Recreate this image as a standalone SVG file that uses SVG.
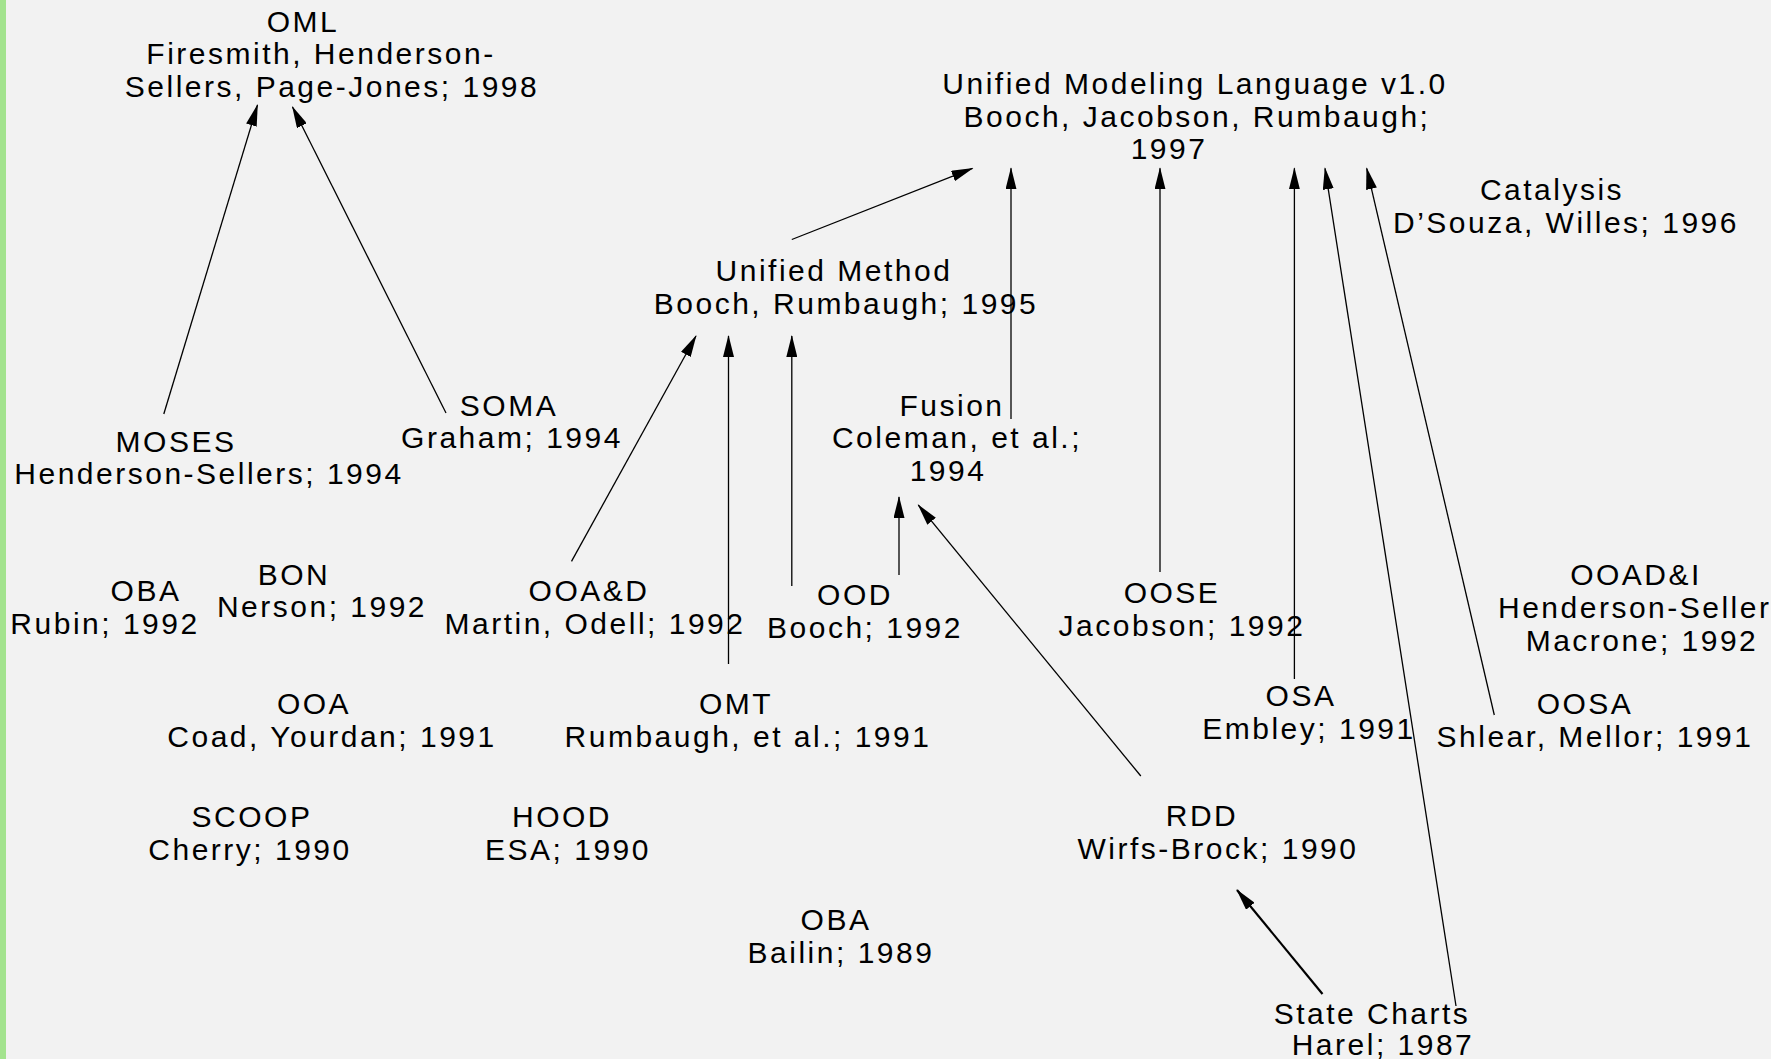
<svg xmlns="http://www.w3.org/2000/svg" width="1771" height="1059" viewBox="0 0 1771 1059">
<style>
text{font-family:"Liberation Sans",Arial,sans-serif;font-size:30px;letter-spacing:2.5px;fill:#000;text-anchor:middle}
.c line{stroke:#000;stroke-width:1.3;fill:none;marker-end:url(#ah)}
.c line.thick{stroke-width:2.2}
</style>
<defs>
<marker id="ah" markerWidth="22" markerHeight="11" refX="21" refY="5.5" orient="auto" markerUnits="userSpaceOnUse"><path d="M0,0 L22,5.5 L0,11 z" fill="#000"/></marker>
</defs>
<rect x="0" y="0" width="1771" height="1059" fill="#f2f2f2"/>
<rect x="0" y="0" width="6" height="1059" fill="#a3e38e"/>
<g class="c" id="connectors">
<line x1="163.8" y1="414" x2="257.5" y2="105"/>
<line x1="446" y1="413" x2="292.5" y2="107"/>
<line x1="791.8" y1="239.5" x2="972.5" y2="168.3"/>
<line x1="1011" y1="419" x2="1011" y2="168.3"/>
<line x1="1160" y1="572" x2="1160" y2="168.3"/>
<line x1="1294.4" y1="679" x2="1294.4" y2="168.3"/>
<line x1="1456" y1="1006" x2="1325" y2="168.3"/>
<line x1="1494.3" y1="715" x2="1366.7" y2="168.3"/>
<line x1="571.5" y1="561.4" x2="696" y2="336"/>
<line x1="728.5" y1="664" x2="728.5" y2="336"/>
<line x1="791.8" y1="586" x2="791.8" y2="336"/>
<line x1="899" y1="575" x2="899" y2="497"/>
<line x1="1140.8" y1="776" x2="918.3" y2="505"/>
<line class="thick" x1="1322.5" y1="994" x2="1237" y2="890"/>
</g>
<g id="oml"><text x="303" y="32">OML</text><text x="321" y="64">Firesmith, Henderson-</text><text x="332" y="97">Sellers, Page-Jones; 1998</text></g>
<g id="uml"><text x="1195" y="94">Unified Modeling Language v1.0</text><text x="1197" y="126.5">Booch, Jacobson, Rumbaugh;</text><text x="1169" y="159">1997</text></g>
<g id="catalysis"><text x="1552" y="200">Catalysis</text><text x="1566" y="233">D’Souza, Willes; 1996</text></g>
<g id="unified-method"><text x="834" y="281">Unified Method</text><text x="846" y="314">Booch, Rumbaugh; 1995</text></g>
<g id="soma"><text x="509" y="416">SOMA</text><text x="512" y="448">Graham; 1994</text></g>
<g id="moses"><text x="176" y="452">MOSES</text><text x="209" y="484">Henderson-Sellers; 1994</text></g>
<g id="fusion"><text x="952" y="416">Fusion</text><text x="957" y="448">Coleman, et al.;</text><text x="948" y="481">1994</text></g>
<g id="oba-rubin"><text x="146" y="601">OBA</text><text x="105" y="634">Rubin; 1992</text></g>
<g id="bon"><text x="294" y="585">BON</text><text x="322" y="617">Nerson; 1992</text></g>
<g id="ooad"><text x="589" y="601">OOA&amp;D</text><text x="595" y="634">Martin, Odell; 1992</text></g>
<g id="ood"><text x="855" y="605">OOD</text><text x="865" y="638">Booch; 1992</text></g>
<g id="oose"><text x="1172" y="603">OOSE</text><text x="1182" y="636">Jacobson; 1992</text></g>
<g id="ooadi"><text x="1636" y="585">OOAD&amp;I</text><text x="1498" y="618" style="text-anchor:start">Henderson-Sellers,</text><text x="1642" y="650.5">Macrone; 1992</text></g>
<g id="ooa"><text x="314" y="714">OOA</text><text x="332" y="747">Coad, Yourdan; 1991</text></g>
<g id="omt"><text x="736" y="714">OMT</text><text x="748" y="747">Rumbaugh, et al.; 1991</text></g>
<g id="osa"><text x="1301" y="706">OSA</text><text x="1309" y="739">Embley; 1991</text></g>
<g id="oosa"><text x="1585" y="714">OOSA</text><text x="1595" y="747">Shlear, Mellor; 1991</text></g>
<g id="scoop"><text x="252" y="827">SCOOP</text><text x="250" y="859.5">Cherry; 1990</text></g>
<g id="hood"><text x="562" y="827">HOOD</text><text x="568" y="859.5">ESA; 1990</text></g>
<g id="rdd"><text x="1202" y="826">RDD</text><text x="1218" y="858.5">Wirfs-Brock; 1990</text></g>
<g id="oba-bailin"><text x="836" y="930">OBA</text><text x="841" y="962.5">Bailin; 1989</text></g>
<g id="state-charts"><text x="1372" y="1024">State Charts</text><text x="1383" y="1055">Harel; 1987</text></g>
</svg>
